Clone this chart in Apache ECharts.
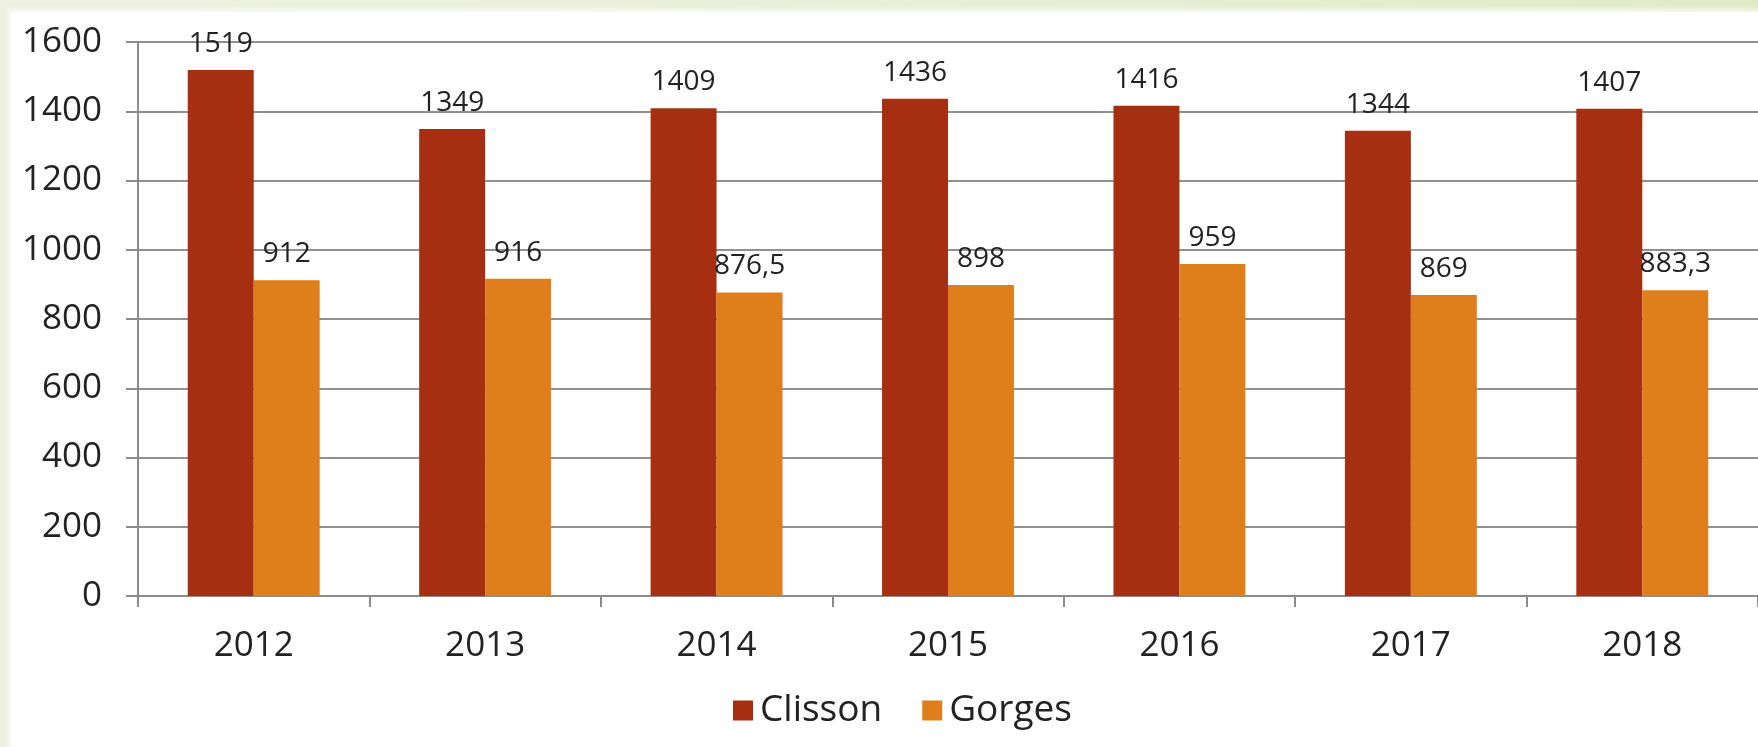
<!DOCTYPE html>
<html>
<head>
<meta charset="utf-8">
<script src="https://cdn.jsdelivr.net/npm/echarts@6/dist/echarts.min.js"></script>
<style>
html,body{margin:0;padding:0;width:1758px;height:747px;overflow:hidden;}
body{background:linear-gradient(90deg,#eef1e2 0%,#e9eed8 50%,#e1eac7 100%);}
#panel{position:absolute;left:11px;top:12px;right:0;bottom:0;background:#fff;
 box-shadow:0 0 6px 2px rgba(255,255,255,0.9);}
#chart{position:absolute;left:0;top:0;width:1758px;height:747px;}
</style>
</head>
<body>
<div id="panel"></div>
<div id="chart"></div>
<script>
const categories = ['2012','2013','2014','2015','2016','2017','2018'];
const clisson = [1519,1349,1409,1436,1416,1344,1407];
const gorges = [912,916,876.5,898,959,869,883.3];
const seriesNames = ['Clisson','Gorges'];
const yTicks = {min:0,max:1600,interval:200};

const FONT = '"Open Sans", "Liberation Sans", sans-serif';
const fmt = p => String(p.value).replace('.', ',');
const chart = echarts.init(document.getElementById('chart'), null, {renderer:'canvas'});
const labelStyle = {show:true,position:'top',distance:12,fontFamily:FONT,fontSize:28,color:'#222',formatter:fmt};
chart.setOption({
  backgroundColor:'transparent',
  animation:false,
  grid:{left:138,top:42,right:0,bottom:151,containLabel:false},
  legend:{bottom:13,left:728,itemWidth:20,itemHeight:20,itemGap:40,icon:'rect',
    textStyle:{fontFamily:FONT,fontSize:37,color:'#222',padding:[0,0,0,2]},
    data:seriesNames},
  xAxis:{type:'category',data:categories,
    axisLine:{lineStyle:{color:'#8c8c8c',width:2}},
    axisTick:{show:true,length:11,lineStyle:{color:'#8c8c8c',width:2}},
    axisLabel:{fontFamily:FONT,fontSize:35,color:'#222',margin:33}},
  yAxis:{type:'value',min:yTicks.min,max:yTicks.max,interval:yTicks.interval,
    axisLine:{show:true,lineStyle:{color:'#8c8c8c',width:2}},
    axisTick:{show:true,length:12,lineStyle:{color:'#8c8c8c',width:2}},
    splitLine:{lineStyle:{color:'#909090',width:2}},
    axisLabel:{fontFamily:FONT,fontSize:35,color:'#222',margin:36,formatter:v=>String(v)}},
  series:[
    {name:seriesNames[0],type:'bar',data:clisson,barGap:'0%',barCategoryGap:'43%',
     itemStyle:{color:'#a62f11'},label:labelStyle},
    {name:seriesNames[1],type:'bar',data:gorges,barGap:'0%',barCategoryGap:'43%',
     itemStyle:{color:'#df7f1b'},label:labelStyle}
  ]
});
</script>
</body>
</html>
